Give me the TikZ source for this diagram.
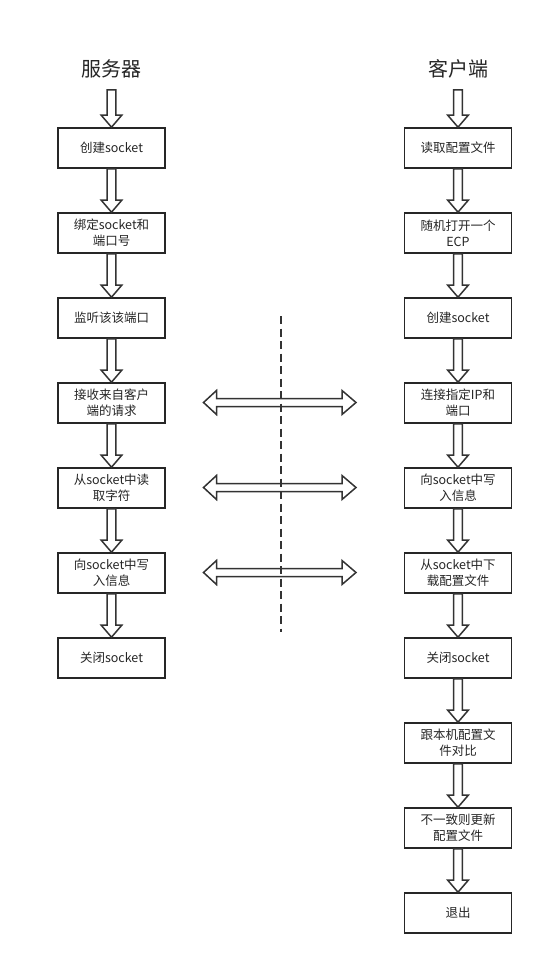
\documentclass[tikz,border=0pt]{standalone}
\usepackage{fontspec}
\setmainfont{Noto Sans CJK SC}
\usetikzlibrary{calc}
\tikzset{
  box/.style={draw=black!85, line width=1.6pt, minimum width=107pt, minimum height=40pt, inner sep=1pt, align=center, font=\fontsize{12.5}{16}\selectfont, text=black!85},
  title/.style={font=\fontsize{20}{24}\selectfont, text=black!85},
  blk/.style={draw=black!80, line width=1.5pt, fill=white, line join=miter},
}
\newcommand{\vblk}[2]{%
  \draw[blk] let \p1=(#1), \p2=(#2) in
    (\x1-4.3pt,\y1) -- (\x1-4.3pt,\y2+12pt) -- (\x1-10.3pt,\y2+12pt) -- (\x1,\y2)
    -- (\x1+10.3pt,\y2+12pt) -- (\x1+4.3pt,\y2+12pt) -- (\x1+4.3pt,\y1) -- cycle;}
\newcommand{\hblk}[2]{%
  \draw[blk] let \p1=(#1), \p2=(#2) in
    (\x1,\y1) -- (\x1+13pt,\y1+12pt) -- (\x1+13pt,\y1+4pt) -- (\x2-14pt,\y1+4pt)
    -- (\x2-14pt,\y1+12pt) -- (\x2,\y1) -- (\x2-14pt,\y1-12pt) -- (\x2-14pt,\y1-4pt)
    -- (\x1+13pt,\y1-4pt) -- (\x1+13pt,\y1-12pt) -- cycle;}
\begin{document}
\begin{tikzpicture}[x=1pt,y=-1pt]
\useasboundingbox[fill=white] (0,0) rectangle (553,965);
\node[title] (ts) at (111.5,69) {服务器};
\node[title] (tc) at (458,69) {客户端};
\coordinate (tsb) at (111.5,90);
\coordinate (tcb) at (458,90);
% server
\node[box] (s1) at (111.5,148) {创建socket};
\node[box] (s2) at (111.5,233) {绑定socket和\\端口号};
\node[box] (s3) at (111.5,318) {监听该该端口};
\node[box] (s4) at (111.5,403) {接收来自客户\\端的请求};
\node[box] (s5) at (111.5,488) {从socket中读\\取字符};
\node[box] (s6) at (111.5,573) {向socket中写\\入信息};
\node[box] (s7) at (111.5,658) {关闭socket};
% client
\node[box] (c1) at (458,148) {读取配置文件};
\node[box] (c2) at (458,233) {随机打开一个\\ECP};
\node[box] (c3) at (458,318) {创建socket};
\node[box] (c4) at (458,403) {连接指定IP和\\端口};
\node[box] (c5) at (458,488) {向socket中写\\入信息};
\node[box] (c6) at (458,573) {从socket中下\\载配置文件};
\node[box] (c7) at (458,658) {关闭socket};
\node[box] (c8) at (458,743) {跟本机配置文\\件对比};
\node[box] (c9) at (458,828) {不一致则更新\\配置文件};
\node[box] (c10) at (458,913) {退出};
% vertical block arrows
\vblk{tsb}{s1.north}
\vblk{s1.south}{s2.north}
\vblk{s2.south}{s3.north}
\vblk{s3.south}{s4.north}
\vblk{s4.south}{s5.north}
\vblk{s5.south}{s6.north}
\vblk{s6.south}{s7.north}
\vblk{tcb}{c1.north}
\vblk{c1.south}{c2.north}
\vblk{c2.south}{c3.north}
\vblk{c3.south}{c4.north}
\vblk{c4.south}{c5.north}
\vblk{c5.south}{c6.north}
\vblk{c6.south}{c7.north}
\vblk{c7.south}{c8.north}
\vblk{c8.south}{c9.north}
\vblk{c9.south}{c10.north}
% horizontal double arrows
\coordinate (h1a) at (203.5,402.5); \coordinate (h1b) at (356,402.5);
\coordinate (h2a) at (203.5,487.5); \coordinate (h2b) at (356,487.5);
\coordinate (h3a) at (203.5,572.5); \coordinate (h3b) at (356,572.5);
\hblk{h1a}{h1b}
\hblk{h2a}{h2b}
\hblk{h3a}{h3b}
% dashed divider
\coordinate (d1) at (281,316);
\coordinate (d2) at (281,632);
\draw[black!80, line width=1.5pt, dash pattern=on 8pt off 4.5pt] (d1) -- (d2);
\end{tikzpicture}
\end{document}
